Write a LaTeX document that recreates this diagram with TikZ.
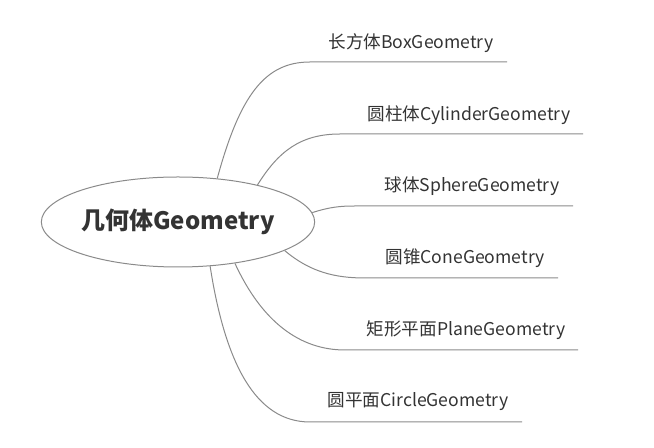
\documentclass[tikz,border=0pt]{standalone}
\usepackage{fontspec}
\setmainfont{Noto Sans CJK SC}
\usetikzlibrary{shapes.geometric}
\definecolor{txt}{HTML}{333333}
\definecolor{ln}{HTML}{8A8A8A}
\begin{document}
\begin{tikzpicture}[x=0.75pt,y=-0.75pt,
  branch/.style={draw=ln,line width=0.75pt},
  lbl/.style={text=txt,font=\fontsize{13.2}{15}\selectfont,inner sep=0pt,anchor=center}]
\useasboundingbox (0,0) rectangle (654,448);
\node[ellipse,draw=ln,line width=0.75pt,minimum width=204pt,minimum height=67.5pt,inner sep=0pt,text=txt,font=\fontsize{18}{20}\selectfont\bfseries] (root) at (178,222) {几何体Geometry};
% labels
\node[lbl] (l1) at (411,43) {长方体BoxGeometry};
\node[lbl] (l2) at (469,115) {圆柱体CylinderGeometry};
\node[lbl] (l3) at (472,186) {球体SphereGeometry};
\node[lbl] (l4) at (465,258) {圆锥ConeGeometry};
\node[lbl] (l5) at (466,330) {矩形平面PlaneGeometry};
\node[lbl] (l6) at (418,402) {圆平面CircleGeometry};
% line coordinates
\coordinate (a1) at (310,62);  \coordinate (b1) at (507,62);
\coordinate (a2) at (340,134); \coordinate (b2) at (583,134);
\coordinate (a3) at (355,206); \coordinate (b3) at (573,206);
\coordinate (a4) at (365,278); \coordinate (b4) at (558,278);
\coordinate (a5) at (345,350); \coordinate (b5) at (578,350);
\coordinate (a6) at (310,422); \coordinate (b6) at (522,422);
\draw[branch] (root.48.4) .. controls (240,95) and (265,62) .. (a1) -- (b1);
\draw[branch] (root.25.4) .. controls (278,152) and (300,134) .. (a2) -- (b2);
\draw[branch] (root.4.7) .. controls (330,207) and (340,206) .. (a3) -- (b3);
\draw[branch] (root.-15.8) .. controls (310,272) and (335,278) .. (a4) -- (b4);
\draw[branch] (root.-36) .. controls (262,322) and (300,350) .. (a5) -- (b5);
\draw[branch] (root.-54.6) .. controls (225,362) and (255,422) .. (a6) -- (b6);
\end{tikzpicture}
\end{document}
